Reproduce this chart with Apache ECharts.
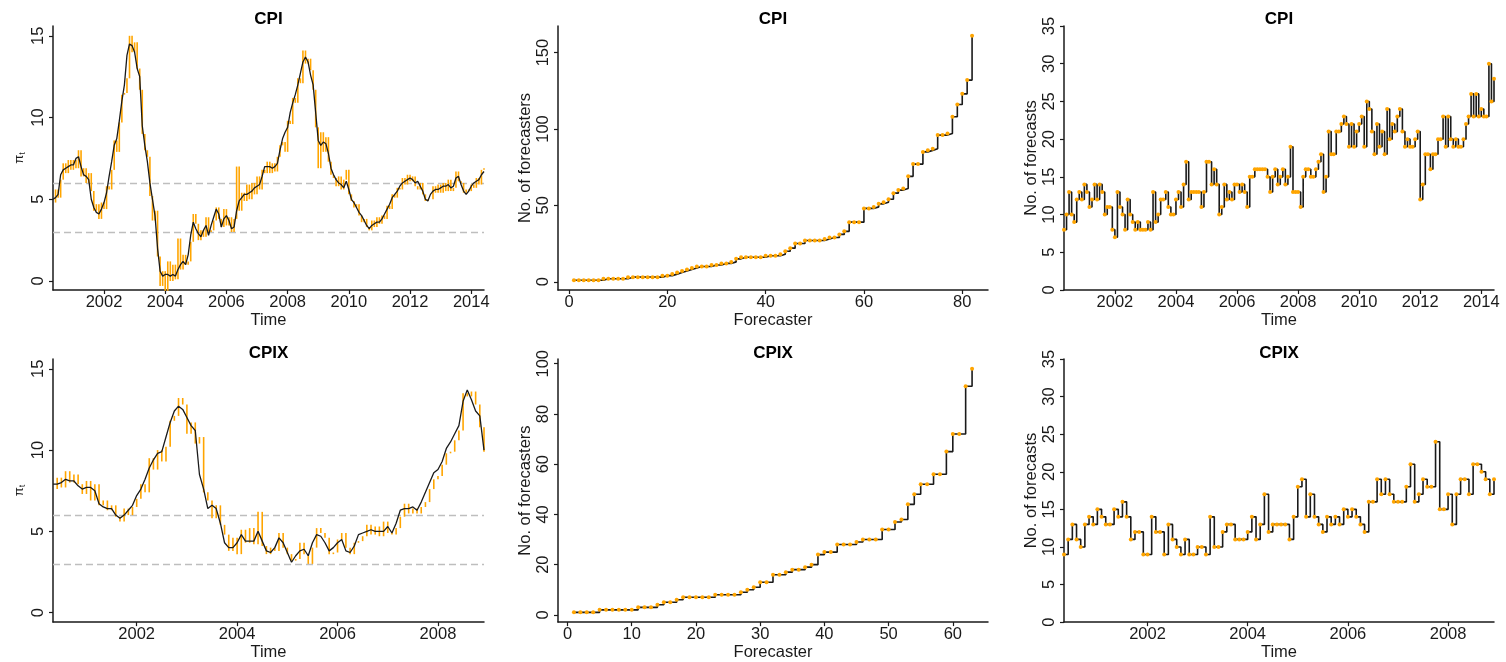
<!DOCTYPE html>
<html>
<head>
<meta charset="utf-8">
<title>CPI and CPIX forecasts</title>
<script src="https://cdn.jsdelivr.net/npm/echarts@6/dist/echarts.min.js"></script>
<style>
  html, body { margin: 0; padding: 0; background: #fff; }
  #main { width: 1506px; height: 662px; }
</style>
</head>
<body>
<div id="main"></div>
<script>
// monthly series start in May 2000
var startYear = 2000;
var startMonth = 5;

// inflation (black, smoothed) and the raw monthly readings (orange)
var cpiInflation = [
  5.0, 5.1, 5.3, 6.5, 6.8, 6.9, 7.0, 7.1, 7.1, 7.5,
  7.6, 7.0, 6.5, 6.4, 6.2, 5.0, 4.5, 4.2, 4.1, 4.4,
  4.8, 5.4, 6.4, 7.3, 8.3, 8.7, 9.8, 11.0, 12.0, 13.8,
  14.5, 14.4, 14.0, 13.0, 12.5, 9.5, 8.3, 7.3, 6.0, 5.0,
  4.0, 2.0, 0.6, 0.3, 0.4, 0.4, 0.3, 0.4, 0.3, 0.7,
  1.0, 1.2, 1.0, 1.6, 2.8, 3.6, 3.2, 2.9, 2.7, 3.1,
  3.4, 2.8, 3.4, 3.9, 4.4, 4.1, 3.3, 3.8, 4.0, 3.7,
  3.2, 3.3, 4.3, 4.9, 5.1, 5.3, 5.3, 5.4, 5.5, 5.7,
  5.8, 5.9, 6.4, 7.0, 7.0, 7.0, 6.9, 7.0, 7.2, 8.0,
  8.7, 9.1, 9.4, 10.3, 10.9, 11.4, 12.0, 12.7, 13.4, 13.7,
  13.4, 12.6, 12.0, 10.3, 8.6, 8.3, 8.5, 8.4, 7.8, 6.9,
  6.5, 6.2, 6.0, 5.9, 5.7, 6.1, 5.6, 5.0, 4.8, 4.5,
  4.2, 4.0, 3.7, 3.4, 3.2, 3.4, 3.5, 3.6, 3.6, 3.8,
  4.1, 4.4, 4.7, 5.1, 5.3, 5.5, 5.8, 6.0, 6.1, 6.2,
  6.3, 6.2, 6.0, 6.1, 5.8, 5.5, 5.0, 4.9, 5.3, 5.5,
  5.6, 5.6, 5.7, 5.8, 5.8, 5.9, 5.7, 5.8, 6.3, 6.4,
  5.9, 5.5, 5.3, 5.5, 5.8, 6.0, 6.1, 6.2, 6.5, 6.7
];
var cpiInflationRaw = [
  4.8, 5.6, 5.1, 6.2, 7.2, 6.6, 7.4, 6.8, 7.4, 6.9,
  8.0, 6.4, 6.9, 6.0, 6.6, 5.5, 4.3, 4.7, 3.8, 4.8,
  4.4, 5.8, 5.6, 6.8, 8.6, 7.9, 9.7, 11.4, 11.5, 12.4,
  15.0, 14.0, 14.6, 13.0, 11.7, 9.0, 8.0, 7.6, 5.2, 3.7,
  4.3, 1.5, -0.3, 0.6, -0.6, 1.2, 0.0, 1.0, 0.1, 2.6,
  0.7, 1.6, 1.0, 1.2, 2.4, 4.1, 3.5, 2.5, 3.1, 2.7,
  3.9, 3.0, 3.1, 3.7, 4.5, 3.8, 3.3, 4.4, 3.4, 3.9,
  3.0, 3.8, 7.0, 4.3, 5.4, 4.9, 5.9, 5.0, 6.0, 5.3,
  6.4, 5.6, 6.8, 6.6, 7.3, 6.6, 7.2, 6.7, 7.6, 8.3,
  8.5, 7.9, 9.8, 9.6, 11.2, 10.9, 12.4, 12.1, 14.1, 13.3,
  13.6, 12.9, 11.7, 9.4, 6.9, 9.1, 7.9, 8.8, 7.3, 6.5,
  6.3, 5.8, 6.4, 5.6, 6.2, 6.8, 5.3, 4.9, 4.5, 4.7,
  4.0, 3.6, 3.8, 3.3, 3.1, 3.7, 3.3, 3.9, 3.5, 4.0,
  3.8, 4.6, 4.4, 5.3, 5.1, 5.7, 5.6, 6.3, 5.9, 6.5,
  6.1, 6.4, 5.8, 5.6, 6.0, 5.3, 4.9, 5.0, 5.0, 5.8,
  5.4, 5.9, 5.4, 6.0, 5.5, 6.2, 5.5, 5.7, 6.7, 6.1,
  6.0, 5.4, 5.6, 5.5, 5.9, 5.7, 6.3, 5.9, 6.8, 6.9
];
var cpixInflation = [
  7.9, 7.9, 8.0, 8.2, 8.1, 8.1, 7.8, 7.6, 7.7, 7.7,
  7.5, 6.7, 6.5, 6.4, 6.4, 6.0, 5.8, 6.0, 6.3, 6.6,
  7.2, 7.6, 8.2, 8.9, 9.4, 9.8, 9.9, 10.8, 11.7, 12.4,
  12.7, 12.5, 12.0, 11.5, 11.2, 8.5, 7.6, 6.4, 6.6, 6.4,
  5.5, 4.3, 4.0, 4.0, 4.3, 4.8, 4.4, 4.4, 4.4, 5.0,
  4.4, 3.8, 3.7, 4.0, 4.6, 4.3, 3.7, 3.1, 3.5, 3.8,
  3.9, 3.5, 4.3, 4.8, 4.7, 4.3, 3.8, 4.0, 4.3, 4.5,
  3.8, 3.7, 4.1, 4.8, 4.9, 5.0, 5.1, 5.0, 5.0, 5.0,
  5.3, 4.9, 5.5, 6.3, 6.4, 6.4, 6.5, 6.3, 6.8, 7.4,
  8.0, 8.6, 8.8, 9.3, 10.1, 10.5, 11.0, 11.5, 13.0, 13.7,
  13.1, 12.4, 12.1, 10.0
];
var cpixInflationRaw = [
  7.6, 8.3, 7.7, 8.7, 8.0, 8.5, 7.9, 7.3, 8.1, 6.9,
  7.9, 6.6, 6.9, 6.3, 6.6, 5.9, 5.6, 6.4, 6.0, 6.5,
  7.0, 7.9, 7.4, 9.5, 8.8, 10.0, 9.3, 10.2, 11.8, 12.1,
  13.2, 12.8, 11.0, 11.7, 10.4, 10.8, 7.4, 6.9, 5.8, 6.6,
  5.4, 4.8, 3.8, 4.6, 3.6, 5.1, 4.3, 5.2, 4.2, 6.2,
  4.1, 3.6, 4.0, 3.8, 4.9, 4.0, 3.6, 3.2, 3.3, 4.3,
  3.6, 3.0, 4.0, 5.2, 4.9, 4.6, 3.6, 3.7, 4.5, 4.9,
  4.0, 3.6, 4.3, 4.4, 4.7, 5.4, 4.8, 5.3, 4.7, 5.6,
  4.9, 4.8, 5.2, 5.9, 6.7, 6.1, 6.4, 6.1, 6.5, 6.8,
  7.6, 8.2, 8.4, 9.1, 9.8, 9.9, 10.6, 11.2, 13.5, 13.3,
  13.6, 12.8, 11.4, 9.9
];
var targetBand = [3, 6];

// forecasts per forecaster, sorted
var cpiForecasters = [
  1, 1, 1, 1, 1, 1, 2, 2, 2, 2, 2, 3, 3, 3, 3, 3, 3, 3, 4, 4,
  5, 6, 7, 8, 9, 10, 10, 10, 11, 11, 12, 12, 13, 15, 16, 16, 16, 16, 16, 17,
  17, 17, 18, 20, 22, 25, 25, 27, 27, 27, 27, 28, 29, 29, 31, 33, 39, 39, 39, 48,
  48, 49, 51, 52, 54, 58, 60, 61, 69, 77, 77, 85, 86, 87, 96, 96, 97, 108, 116, 123,
  132, 161
];
var cpixForecasters = [
  1, 1, 1, 1, 2, 2, 2, 2, 2, 2, 3, 3, 3, 4, 5, 5, 6, 7, 7, 7,
  7, 7, 8, 8, 8, 8, 9, 10, 11, 13, 13, 16, 16, 17, 18, 18, 19, 20, 24, 25,
  25, 28, 28, 28, 29, 30, 30, 30, 34, 34, 37, 38, 44, 48, 52, 52, 56, 56, 65, 72,
  72, 91, 98
];

// forecasts per month
var cpiForecastCount = [
  8, 10, 13, 10, 9, 12, 13, 12, 14, 13,
  11, 12, 14, 12, 14, 13, 10, 11, 11, 8,
  7, 13, 11, 10, 8, 12, 10, 9, 8, 9,
  8, 8, 8, 9, 8, 13, 9, 10, 12, 12,
  13, 11, 10, 10, 12, 13, 11, 14, 17, 12,
  13, 13, 13, 13, 11, 13, 17, 17, 14, 16,
  14, 10, 11, 14, 12, 13, 12, 14, 14, 13,
  14, 13, 11, 15, 15, 16, 16, 16, 16, 16,
  15, 13, 15, 16, 14, 15, 16, 14, 15, 19,
  13, 13, 13, 11, 15, 16, 16, 15, 15, 16,
  17, 18, 13, 15, 21, 18, 18, 21, 21, 22,
  23, 22, 19, 22, 19, 21, 22, 23, 19, 25,
  24, 21, 18, 22, 19, 21, 18, 24, 20, 22,
  21, 23, 24, 21, 19, 20, 19, 19, 20, 21,
  12, 14, 18, 18, 16, 18, 18, 20, 20, 23,
  19, 23, 20, 19, 20, 19, 19, 20, 22, 23,
  26, 23, 26, 23, 24, 23, 23, 30, 25, 28
];
var cpixForecastCount = [
  9, 11, 13, 11, 10, 13, 14, 13, 15, 14,
  13, 13, 15, 14, 16, 14, 11, 12, 12, 9,
  9, 14, 12, 12, 9, 13, 11, 10, 9, 11,
  9, 9, 10, 10, 9, 14, 10, 10, 12, 13,
  13, 11, 11, 11, 12, 14, 11, 13, 17, 12,
  13, 13, 13, 13, 11, 14, 18, 19, 14, 17,
  14, 13, 12, 14, 13, 14, 13, 15, 14, 15,
  14, 13, 12, 16, 16, 19, 17, 19, 17, 16,
  16, 16, 18, 21, 16, 17, 19, 18, 18, 24,
  15, 15, 17, 13, 17, 19, 19, 17, 21, 21,
  20, 19, 17, 19
];

var panelTitles = ['CPI', 'CPI', 'CPI', 'CPIX', 'CPIX', 'CPIX'];
var yearTicksLong = [2002, 2004, 2006, 2008, 2010, 2012, 2014];
var yearTicksShort = [2002, 2004, 2006, 2008];
var inflationTicks = [0, 5, 10, 15];
var cpiRankTicksX = [0, 20, 40, 60, 80];
var cpiRankTicksY = [0, 50, 100, 150];
var cpixRankTicksX = [0, 10, 20, 30, 40, 50, 60];
var cpixRankTicksY = [0, 20, 40, 60, 80, 100];
var countTicks = [0, 5, 10, 15, 20, 25, 30, 35];

var font = '"Liberation Sans", Arial, Helvetica, sans-serif';
var ink = '#1a1a1a';
var orange = '#FFA500';

function monthOf(i) {
  return startYear + (startMonth - 1 + i) / 12;
}
function monthly(values) {
  return values.map(function (v, i) { return [monthOf(i), v]; });
}
function ranked(values) {
  return values.map(function (v, i) { return [i + 1, v]; });
}
// month-to-month moves of the raw reading: [time, from, to]
function moves(raw) {
  var out = [];
  for (var i = 1; i < raw.length; i++) out.push([monthOf(i), raw[i - 1], raw[i]]);
  return out;
}

var grids = [
  { left: 53, top: 26, width: 431, height: 264 },
  { left: 558, top: 26, width: 430, height: 264 },
  { left: 1064, top: 26, width: 430, height: 264 },
  { left: 53, top: 359, width: 431, height: 265 },
  { left: 558, top: 359, width: 430, height: 265 },
  { left: 1064, top: 359, width: 430, height: 265 }
];

function axis(gridIndex, min, max, ticks, name, isY, nameGap) {
  var a = {
    type: 'value',
    gridIndex: gridIndex,
    min: min,
    max: max,
    splitLine: { show: false },
    axisLine: { show: true, onZero: false, lineStyle: { color: ink, width: 1.5 } },
    axisTick: { show: true, length: 4, customValues: ticks, lineStyle: { color: ink, width: 1.2 } },
    axisLabel: {
      customValues: ticks,
      color: ink,
      fontFamily: font,
      fontSize: 16.5,
      margin: isY ? 6 : 4,
      rotate: isY ? 90 : 0,
      formatter: function (v) { return String(Math.round(v)); }
    },
    name: name,
    nameLocation: 'middle',
    nameGap: nameGap,
    nameTextStyle: {
      color: ink,
      fontFamily: font,
      fontSize: 16.5,
      rich: {
        pi: { fontFamily: font, fontSize: 13, color: ink },
        sub: { fontFamily: font, fontSize: 9, color: ink, verticalAlign: 'bottom', padding: [6, 0, 0, 0] }
      }
    }
  };
  if (isY) a.nameRotate = 90;
  return a;
}

var t0 = monthOf(0);
var tEndLong = monthOf(cpiInflation.length - 1);
var tEndShort = monthOf(cpixInflation.length - 1);

var xAxes = [
  axis(0, t0, tEndLong, yearTicksLong, 'Time', false, 16),
  axis(1, -2.24, 85.24, cpiRankTicksX, 'Forecaster', false, 16),
  axis(2, t0, tEndLong, yearTicksLong, 'Time', false, 16),
  axis(3, t0, tEndShort, yearTicksShort, 'Time', false, 16),
  axis(4, -1.48, 65.48, cpixRankTicksX, 'Forecaster', false, 16),
  axis(5, t0, tEndShort, yearTicksShort, 'Time', false, 16)
];
var yAxes = [
  axis(0, -0.55, 15.6, inflationTicks, '{pi|\u03c0}{sub|t}', true, 26),
  axis(1, -5.4, 167.4, cpiRankTicksY, 'No. of forecasters', true, 19),
  axis(2, 0, 35, countTicks, 'No. of forecasts', true, 20),
  axis(3, -0.58, 15.6, inflationTicks, '{pi|\u03c0}{sub|t}', true, 26),
  axis(4, -2.88, 101.88, cpixRankTicksY, 'No. of forecasters', true, 19),
  axis(5, 0, 35, countTicks, 'No. of forecasts', true, 20)
];

function inflationSeries(idx, smooth, raw) {
  return [
    {
      type: 'custom', xAxisIndex: idx, yAxisIndex: idx, data: moves(raw),
      encode: { x: 0, y: [1, 2] }, z: 2, silent: true,
      renderItem: function (params, api) {
        var a = api.coord([api.value(0), api.value(1)]);
        var b = api.coord([api.value(0), api.value(2)]);
        return {
          type: 'line',
          shape: { x1: a[0], y1: a[1], x2: b[0], y2: b[1] },
          style: { stroke: orange, lineWidth: 1.6 }
        };
      }
    },
    {
      type: 'line', xAxisIndex: idx, yAxisIndex: idx, data: monthly(smooth),
      showSymbol: false, z: 3,
      lineStyle: { color: ink, width: 1.3 },
      markLine: {
        silent: true, symbol: 'none', label: { show: false }, z: 1,
        lineStyle: { color: '#BEBEBE', type: [7, 4], width: 1.3 },
        data: targetBand.map(function (v) { return { yAxis: v }; })
      }
    }
  ];
}
function stepSeries(idx, data) {
  return {
    type: 'line', xAxisIndex: idx, yAxisIndex: idx, data: data,
    step: 'end', symbol: 'circle', symbolSize: 4, showSymbol: true,
    itemStyle: { color: orange },
    lineStyle: { color: ink, width: 1.6 }
  };
}

var series = []
  .concat(inflationSeries(0, cpiInflation, cpiInflationRaw))
  .concat([stepSeries(1, ranked(cpiForecasters)), stepSeries(2, monthly(cpiForecastCount))])
  .concat(inflationSeries(3, cpixInflation, cpixInflationRaw))
  .concat([stepSeries(4, ranked(cpixForecasters)), stepSeries(5, monthly(cpixForecastCount))]);

var chart = echarts.init(document.getElementById('main'));
chart.setOption({
  animation: false,
  backgroundColor: '#fff',
  title: panelTitles.map(function (t, i) {
    return {
      text: t,
      left: grids[i].left + grids[i].width / 2,
      top: i < 3 ? 11 : 345,
      padding: 0,
      textAlign: 'center',
      textStyle: { fontFamily: font, fontSize: 17, fontWeight: 'bold', color: '#000' }
    };
  }),
  grid: grids,
  xAxis: xAxes,
  yAxis: yAxes,
  series: series
});
</script>
</body>
</html>
